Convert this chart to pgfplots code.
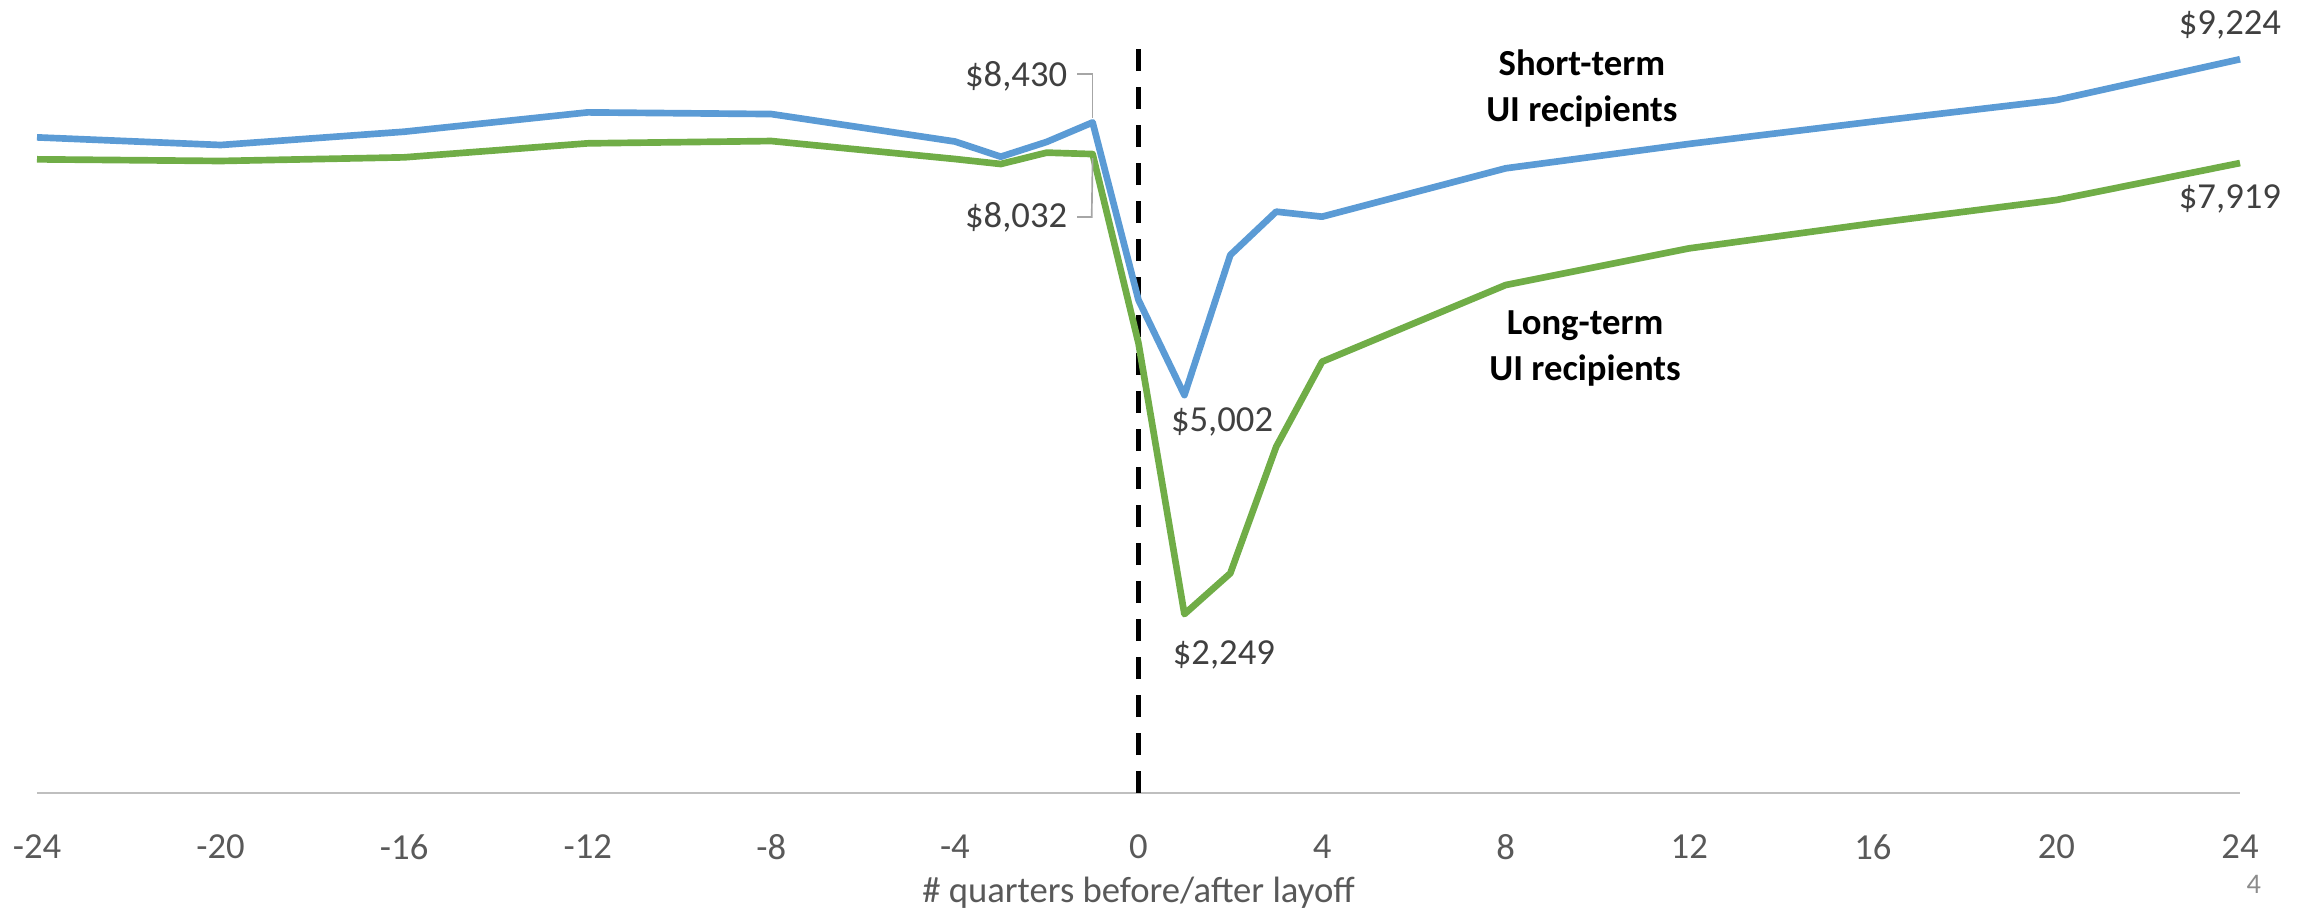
\documentclass[border=0pt]{standalone}
\usepackage{fontspec}
\setmainfont{Carlito}
\usepackage{pgfplots}
\pgfplotsset{compat=1.18}
\definecolor{stblue}{HTML}{5B9BD5}
\definecolor{ltgreen}{HTML}{70AD47}
\definecolor{txtgray}{HTML}{595959}
\definecolor{lblgray}{HTML}{404040}
\definecolor{axgray}{HTML}{BFBFBF}
\definecolor{leadgray}{HTML}{A6A6A6}
\begin{document}
\begin{tikzpicture}
\begin{axis}[
  scale only axis, width=660.9pt, height=237.9pt,
  xmin=-24, xmax=24, ymin=0, ymax=9969,
  axis x line*=bottom, axis y line=none,
  x axis line style={-, draw=axgray, line width=0.8pt},
  xtick={-24,-20,-16,-12,-8,-4,0,4,8,12,16,20,24},
  xticklabels={-24,-20,-16,-12,-8,-4,0,4,8,12,16,20,24},
  major tick length=0pt,
  xticklabel style={font=\fontsize{11}{13}\selectfont, text=txtgray, yshift=-9pt},
  xlabel={\# quarters before/after layoff},
  xlabel style={font=\fontsize{11}{13}\selectfont, text=txtgray, at={(axis description cs:0.5,0)}, anchor=center, yshift=-30pt},
  clip=false,
]
\coordinate (bl) at (rel axis cs:0,0);
\coordinate (tr) at (rel axis cs:1,1);
% dashed layoff line
\addplot[black, line width=1.7pt, dash pattern=on 6.6pt off 4.8pt] coordinates {(0,0) (0,9365)};
% short-term
\addplot[stblue, line width=2pt, line join=round] coordinates {
(-24,8242) (-20,8146) (-16,8313) (-12,8556) (-8,8535) (-4,8190) (-3,7999) (-2,8185) (-1,8430)
(0,6197) (1,5002) (2,6763) (3,7308) (4,7245) (8,7853) (12,8160) (16,8440) (20,8711) (24,9224)};
% long-term
\addplot[ltgreen, line width=2pt, line join=round] coordinates {
(-24,7966) (-20,7945) (-16,7991) (-12,8167) (-8,8196) (-4,7970) (-3,7907) (-2,8050) (-1,8032)
(0,5653) (1,2249) (2,2762) (3,4353) (4,5422) (8,6386) (12,6847) (16,7161) (20,7455) (24,7919)};
% leader lines
\draw[leadgray, line width=0.5pt] (axis cs:-1.34,9040) -- (axis cs:-1.0,9040) -- (axis cs:-1.0,8480);
\draw[leadgray, line width=0.5pt] (axis cs:-1.34,7241) -- (axis cs:-1.02,7241) -- (axis cs:-1.0,7980);
% data labels
\tikzset{dl/.style={font=\fontsize{11}{13}\selectfont, text=lblgray, inner sep=0pt}}
\node[dl, anchor=east] at (axis cs:-1.54,9013) {\$8,430};
\node[dl, anchor=east] at (axis cs:-1.54,7241) {\$8,032};
\node[dl] at (axis cs:1.82,4664) {\$5,002};
\node[dl] at (axis cs:1.86,1735) {\$2,249};
\node[dl] at (axis cs:23.78,9654) {\$9,224};
\node[dl] at (axis cs:23.78,7467) {\$7,919};
% series names
\node[font=\bfseries\fontsize{11}{13.8}\selectfont, align=center, inner sep=0pt] at (axis cs:9.66,8850) {Short-term\\UI recipients};
\node[font=\bfseries\fontsize{11}{13.8}\selectfont, align=center, inner sep=0pt] at (axis cs:9.73,5594) {Long-term\\UI recipients};
% slide number
\node[font=\fontsize{8.5}{10}\selectfont, text=txtgray!70, inner sep=0pt] at (axis cs:24.3,-1144) {4};
\end{axis}
\pgfresetboundingbox
\path ([xshift=-11.1pt,yshift=-36.6pt]bl) rectangle ([xshift=21.3pt]tr);
\end{tikzpicture}
\end{document}
